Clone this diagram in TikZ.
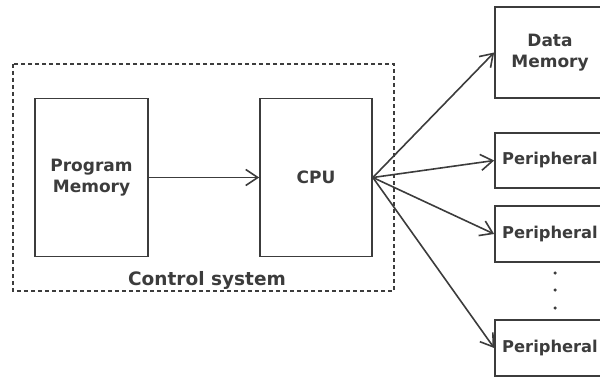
\documentclass[tikz,border=0pt]{standalone}
\usepackage{fontspec}
\setmainfont{DejaVu Sans}
\usetikzlibrary{arrows.meta}
\definecolor{ink}{HTML}{3C3C3C}
\tikzset{
  blk/.style={draw=ink, line width=1.7pt, rectangle, inner sep=0pt, text=ink,
    font=\fontsize{17}{20.5}\selectfont\bfseries, align=center},
  rblk/.style={blk, minimum width=110pt, font=\fontsize{16.3}{20.5}\selectfont\bfseries},
  conn/.style={draw=ink, line width=1.6pt, -{Straight Barb[length=12pt,width=16pt,line width=1.6pt]}},
  ctrl/.style={draw=ink, line width=1.5pt, dash pattern=on 4pt off 3pt},
  dotm/.style={circle, fill=ink, inner sep=0pt, minimum size=3.5pt}
}
\begin{document}
\begin{tikzpicture}[x=1pt,y=-1pt]
\useasboundingbox (0,0) rectangle (600,377);
\clip (0,0) rectangle (600,377);
\draw[ctrl] (13,64) rectangle (394,291);
\node[text=ink, font=\fontsize{18.5}{21}\selectfont\bfseries, anchor=base] (cs) at (207,285) {Control system};
\node[blk, minimum width=113pt, minimum height=158pt] (pm) at (91.5,177.5) {Program\\Memory};
\node[blk, minimum width=112pt, minimum height=158pt] (cpu) at (316,177.5) {CPU};
\node[rblk, minimum height=91pt, font=\fontsize{17}{20.5}\selectfont\bfseries] (dm) at (550,52.5) {Data\\Memory};
\node[rblk, minimum height=55pt] (p1) at (550,160.5) {Peripheral};
\node[rblk, minimum height=56pt] (p2) at (550,234) {Peripheral};
\node[rblk, minimum height=56pt] (p3) at (550,348) {Peripheral};
\node[dotm] (d1) at (555,273) {};
\node[dotm] (d2) at (555,290) {};
\node[dotm] (d3) at (555,308) {};
\draw[conn] (pm.east) -- (cpu.west);
\draw[conn] (cpu.east) -- (dm.west);
\draw[conn] (cpu.east) -- (p1.west);
\draw[conn] (cpu.east) -- (p2.west);
\draw[conn] (cpu.east) -- (p3.west);
\end{tikzpicture}
\end{document}
